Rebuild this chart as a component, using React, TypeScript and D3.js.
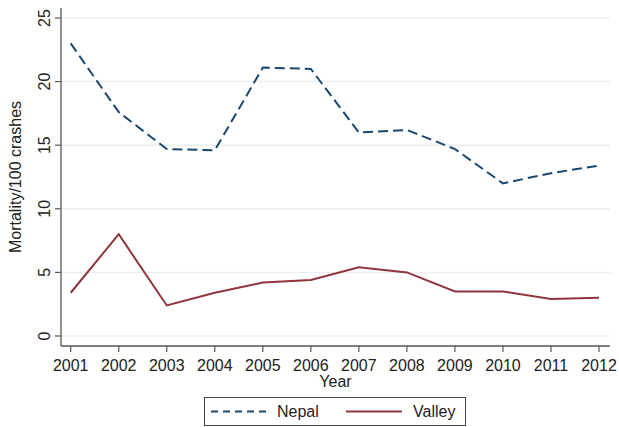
import React from "react";
import * as d3 from "d3";

const years = [2001, 2002, 2003, 2004, 2005, 2006, 2007, 2008, 2009, 2010, 2011, 2012];
const nepal = [23.0, 17.6, 14.7, 14.6, 21.1, 21.0, 16.0, 16.2, 14.7, 12.0, 12.8, 13.4];
const valley = [3.4, 8.0, 2.4, 3.4, 4.2, 4.4, 5.4, 5.0, 3.5, 3.5, 2.9, 3.0];
const yTicks = [0, 5, 10, 15, 20, 25];

const W = 619;
const H = 427;
const FONT = "'Liberation Sans', Arial, sans-serif";

export default function App() {
  const x = d3.scaleLinear().domain([2001, 2012]).range([70.7, 599]);
  const y = d3.scaleLinear().domain([0, 25]).range([336, 18]);
  const plotLeft = 61;
  const plotRight = 610;
  const axisY = 346;
  const line = d3
    .line<number>()
    .x((_, i) => x(years[i]))
    .y((d) => y(d));

  return (
    <svg
      width={W}
      height={H}
      style={{ position: "absolute", left: 0, top: 0, background: "#fff" }}
      fontFamily={FONT}
    >
      <rect x={0} y={0} width={W} height={H} fill="#fff" />
      {yTicks.map((t) => (
        <line
          key={"g" + t}
          x1={plotLeft}
          x2={plotRight}
          y1={y(t)}
          y2={y(t)}
          stroke="#eaeeee"
          strokeWidth={1.5}
        />
      ))}
      <path d={line(nepal) || ""} fill="none" stroke="#1a476f" strokeWidth={2} strokeDasharray="10,5" />
      <path d={line(valley) || ""} fill="none" stroke="#90353b" strokeWidth={2} />
      <line x1={plotLeft} x2={plotLeft} y1={8} y2={axisY} stroke="#555" strokeWidth={1.3} />
      <line x1={plotLeft} x2={plotRight} y1={axisY} y2={axisY} stroke="#555" strokeWidth={1.3} />
      {yTicks.map((t) => (
        <g key={"yt" + t}>
          <line x1={plotLeft - 6} x2={plotLeft} y1={y(t)} y2={y(t)} stroke="#555" strokeWidth={1.2} />
          <text
            transform={`translate(${plotLeft - 11},${y(t)}) rotate(-90)`}
            textAnchor="middle"
            fontSize={16}
            fill="#222"
          >
            {t}
          </text>
        </g>
      ))}
      {years.map((yr) => (
        <g key={"xt" + yr}>
          <line x1={x(yr)} x2={x(yr)} y1={axisY} y2={axisY + 6} stroke="#555" strokeWidth={1.2} />
          <text x={x(yr)} y={axisY + 25} textAnchor="middle" fontSize={16} fill="#222">
            {yr}
          </text>
        </g>
      ))}
      <text x={(plotLeft + plotRight) / 2} y={387} textAnchor="middle" fontSize={16} fill="#222">
        Year
      </text>
      <text
        transform={`translate(21,177) rotate(-90)`}
        textAnchor="middle"
        fontSize={16}
        fill="#222"
      >
        Mortality/100 crashes
      </text>
      <rect x={204.5} y={397.5} width={261} height={28} fill="#fff" stroke="#444" strokeWidth={1} />
      <line x1={211} x2={270} y1={411.5} y2={411.5} stroke="#1a476f" strokeWidth={2} strokeDasharray="7,5" />
      <text x={277} y={417} fontSize={16} fill="#222">
        Nepal
      </text>
      <line x1={346} x2={402} y1={411.5} y2={411.5} stroke="#90353b" strokeWidth={2} />
      <text x={413} y={417} fontSize={16} fill="#222">
        Valley
      </text>
    </svg>
  );
}
